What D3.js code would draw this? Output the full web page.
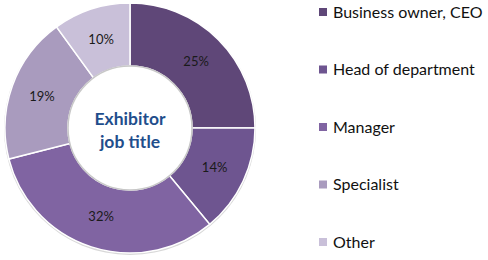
<!DOCTYPE html>
<html>
<head>
<meta charset="utf-8">
<script src="https://cdn.jsdelivr.net/npm/d3@7"></script>
<style>
  body { margin: 0; background: #fff; }
  svg { display: block; font-family: Lato, "Open Sans", sans-serif; }
</style>
</head>
<body>
<svg id="chart"></svg>
<script>
// data
const categories = ["Business owner, CEO", "Head of department", "Manager", "Specialist", "Other"];
const values = [25, 14, 32, 19, 10];
const colors = ["#5f4778", "#6e5590", "#8064a2", "#a99bbe", "#c9c0d9"];

const width = 488, height = 260;
const cx = 130, cy = 128;
const outerR = 125, innerR = 62;

const svg = d3.select("#chart")
  .attr("width", width)
  .attr("height", height);

const pie = d3.pie().sort(null).value(d => d.value);
const arc = d3.arc().innerRadius(innerR).outerRadius(outerR);

const data = categories.map((c, i) => ({ name: c, value: values[i], color: colors[i] }));

const g = svg.append("g")
  .attr("transform", `translate(${cx}, ${cy})`);

// soft shadow under ring
g.append("circle")
  .attr("r", outerR + 1)
  .attr("cy", 1)
  .attr("fill", "#d8d8d8");

g.selectAll("path")
  .data(pie(data))
  .enter()
  .append("path")
    .attr("d", arc)
    .attr("fill", d => d.data.color)
    .attr("stroke", "#fff")
    .attr("stroke-width", 1.5);

// inner hole with a faint rim
g.append("circle")
  .attr("r", innerR)
  .attr("fill", "#fff")
  .attr("stroke", "#c8c8c8")
  .attr("stroke-width", 1.5);

g.selectAll(".lbl")
  .data(pie(data))
  .enter()
  .append("text")
    .attr("class", "lbl")
    .attr("transform", d => `translate(${arc.centroid(d)})`)
    .attr("text-anchor", "middle")
    .attr("dy", "0.35em")
    .attr("font-size", 13)
    .attr("fill", "#1a1a1a")
    .text(d => d.data.value + "%");

// centre title
g.append("text")
  .attr("text-anchor", "middle")
  .attr("y", -9)
  .attr("dy", "0.35em")
  .attr("font-size", 17.5)
  .attr("font-weight", "bold")
  .attr("fill", "#1f4e8c")
  .text("Exhibitor");
g.append("text")
  .attr("text-anchor", "middle")
  .attr("y", 14)
  .attr("dy", "0.35em")
  .attr("font-size", 17.5)
  .attr("font-weight", "bold")
  .attr("fill", "#1f4e8c")
  .text("job title");

// legend
const ly = d3.scalePoint()
  .domain(categories)
  .range([12, 242]);

const legend = svg.append("g")
  .selectAll("g")
  .data(data)
  .enter()
  .append("g")
    .attr("transform", d => `translate(319, ${ly(d.name)})`);

legend.append("rect")
  .attr("x", 0)
  .attr("y", -4)
  .attr("width", 8)
  .attr("height", 8)
  .attr("fill", d => d.color);

legend.append("text")
  .attr("x", 14)
  .attr("dy", "0.35em")
  .attr("font-size", 16)
  .attr("fill", "#111")
  .text(d => d.name);
</script>
</body>
</html>
